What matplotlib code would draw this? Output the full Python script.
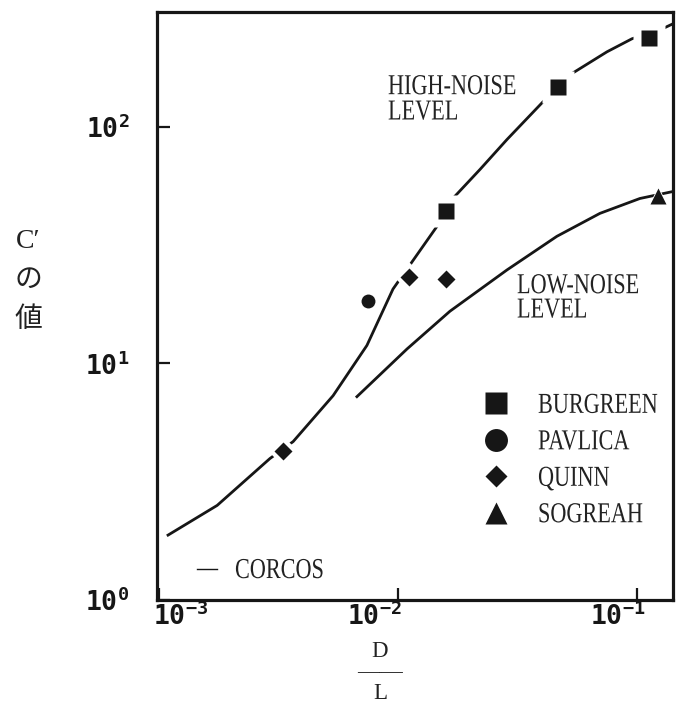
import matplotlib
matplotlib.use("Agg")
import matplotlib.pyplot as plt
from matplotlib.lines import Line2D
from matplotlib.ticker import NullLocator
from matplotlib.font_manager import FontProperties
from matplotlib.patheffects import AbstractPathEffect
from matplotlib.transforms import Affine2D, ScaledTranslation

# ---- measured data (D/L, C') ---------------------------------------
burgreen_dl = [0.0159, 0.0467, 0.112]
burgreen_c = [43.9, 147.0, 237.0]
pavlica_dl = [0.0075]
pavlica_c = [18.3]
quinn_dl = [0.0033, 0.0111, 0.0159]
quinn_c = [4.26, 23.1, 22.7]
sogreah_dl = [0.1225]
sogreah_c = [50.7]

# ---- Corcos curves ---------------------------------------------------
high_dl = [0.00109, 0.00175, 0.00291, 0.00364, 0.00535, 0.00741, 0.00953,
           0.01144, 0.01456, 0.01683, 0.02203, 0.02858, 0.04047, 0.05245,
           0.0749, 0.0953, 0.1247, 0.1416]
high_c = [1.88, 2.51, 3.96, 4.67, 7.30, 11.9, 20.6,
          26.8, 37.9, 49.3, 65.9, 88.2, 127.4, 165.6,
          207.0, 235.0, 256.0, 272.0]
low_dl = [0.00673, 0.01091, 0.01650, 0.02858, 0.04624, 0.0700, 0.1029, 0.1416]
low_c = [7.23, 11.5, 16.6, 24.8, 34.4, 43.0, 49.7, 53.2]

x_ticks = [1e-3, 1e-2, 1e-1]
x_tick_labels = [r"$10^{-3}$", r"$10^{-2}$", r"$10^{-1}$"]
y_ticks = [1, 10, 100]
y_tick_labels = [r"$10^{0}$", r"$10^{1}$", r"$10^{2}$"]

legend_names = ["BURGREEN", "PAVLICA", "QUINN", "SOGREAH"]


class TallGlyphs(AbstractPathEffect):
    """Draw text glyphs stretched upward from their baseline."""

    def __init__(self, sy=1.3):
        super().__init__()
        self._sy = sy

    def draw_path(self, renderer, gc, tpath, affine, rgbFace=None):
        renderer.draw_path(gc, tpath, Affine2D().scale(1.0, self._sy) + affine, rgbFace)


plt.rcParams.update({
    "mathtext.fontset": "custom",
    "mathtext.rm": "DejaVu Sans Mono:bold",
    "mathtext.it": "DejaVu Sans Mono:bold",
    "mathtext.bf": "DejaVu Sans Mono:bold",
    "mathtext.default": "rm",
})

ink = "#161616"
txt = "#222222"
tall = [TallGlyphs(1.3)]
serif = FontProperties(family="Liberation Serif", size=16)

fig = plt.figure(figsize=(6.77, 7.07), dpi=100)
ax = fig.add_axes([157 / 677, 107 / 707, 516 / 677, 588 / 707])
ax.set_xscale("log")
ax.set_yscale("log")
ax.set_xlim(0.00098, 0.1416)
ax.set_ylim(1.0, 305.0)

for sp in ax.spines.values():
    sp.set_linewidth(2.3)
    sp.set_color(ink)

# curves
ax.plot(high_dl, high_c, color=ink, lw=2.0, solid_joinstyle="round", zorder=2)
ax.plot(low_dl, low_c, color=ink, lw=2.0, solid_joinstyle="round", zorder=2)

series = [
    (burgreen_dl, burgreen_c, "s", 11.0, 23.0),
    (pavlica_dl, pavlica_c, "o", 10.0, 10.0),
    (quinn_dl, quinn_c, "D", 9.0, 15.0),
    (sogreah_dl, sogreah_c, "^", 12.0, 14.0),
]
for dl, c, m, ms, halo in series:
    # white ring breaks the curve around each symbol
    ax.plot(dl, c, ls="none", marker=m, ms=halo, mfc="white", mec="none", zorder=3)
    ax.plot(dl, c, ls="none", marker=m, ms=ms, mfc=ink, mec="none", zorder=4)

# legend of data sources
proxy_sizes = [15.5, 16.5, 11.5, 16.5]
handles = [Line2D([], [], ls="none", marker=m, ms=s, mfc=ink, mec="none")
           for (_, _, m, _, _), s in zip(series, proxy_sizes)]
leg = ax.legend(handles, legend_names, loc="center left",
                bbox_to_anchor=(0.629, 0.2372), frameon=False, prop=serif,
                handlelength=1.3, handletextpad=1.24, labelspacing=0.56,
                borderpad=0, borderaxespad=0, handleheight=1.22)
for t in leg.get_texts():
    t.set_color(txt)
    t.set_path_effects(tall)
ax.add_artist(leg)

leg2 = ax.legend([Line2D([], [], color=ink, lw=1.0)], ["CORCOS"],
                 loc="center left", bbox_to_anchor=(0.0775, 0.0493),
                 frameon=False, prop=serif, handlelength=0.9,
                 handletextpad=0.81, borderpad=0, borderaxespad=0,
                 handleheight=1.22)
for t in leg2.get_texts():
    t.set_color(txt)
    t.set_path_effects(tall)

# curve annotations
ax.text(0.4477, 0.8172, "HIGH-NOISE\nLEVEL", transform=ax.transAxes,
        fontproperties=serif, color=txt, ha="left", va="baseline",
        linespacing=1.45, path_effects=tall)
ax.text(0.6977, 0.4804, "LOW-NOISE\nLEVEL", transform=ax.transAxes,
        fontproperties=serif, color=txt, ha="left", va="baseline",
        linespacing=1.38, path_effects=tall)

# ticks
ax.xaxis.set_minor_locator(NullLocator())
ax.yaxis.set_minor_locator(NullLocator())
ax.tick_params(axis="both", which="major", direction="in", length=9,
               width=1.6, color=ink, labelcolor=ink, labelsize=19)
ax.tick_params(axis="y", pad=20)
ax.tick_params(axis="x", pad=2)
ax.set_xticks(x_ticks, labels=x_tick_labels)
ax.set_yticks(y_ticks, labels=y_tick_labels)
for lbl, dx in zip(ax.get_xticklabels(), [21, -24, -19]):
    lbl.set_transform(lbl.get_transform() + ScaledTranslation(dx / 100, 0, fig.dpi_scale_trans))

# axis titles
ax.set_ylabel("C\u2032\n\u306e\n\u5024", rotation=0, ha="center", va="center",
              family=["Liberation Serif", "Noto Sans CJK JP"], fontsize=20,
              color=txt, linespacing=1.74)
ax.yaxis.set_label_coords(-0.25, 0.542)
ax.set_xlabel("D\n\u2014\u2014\nL", ha="center", va="center",
              family=["Liberation Serif", "DejaVu Serif"], fontsize=16.5,
              color=txt, linespacing=1.0)
ax.xaxis.set_label_coords(0.432, -0.124)

fig.savefig("out.png", dpi=100)
